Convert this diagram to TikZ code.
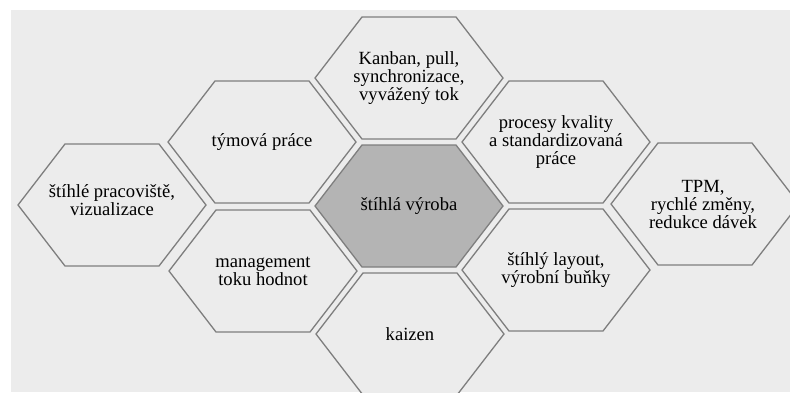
\documentclass[tikz,border=0pt]{standalone}
\usepackage{fontspec}
\setmainfont{Liberation Serif}
\definecolor{pagebg}{HTML}{ECECEC}
\definecolor{hexline}{HTML}{7E7E7E}
\definecolor{hexcore}{HTML}{B4B4B4}
\tikzset{
  hexlabel/.style={align=center, inner sep=0pt, text=black,
    font=\fontsize{18.6}{18}\selectfont},
  hexshape/.style={draw=hexline, line width=1.3pt, line join=miter, fill=pagebg},
}
\newcommand{\hexaround}[2][]{%
  \path[hexshape,#1] ([shift={(-94,0)}]#2.center) -- ([shift={(-47,-61)}]#2.center)
    -- ([shift={(47,-61)}]#2.center) -- ([shift={(94,0)}]#2.center)
    -- ([shift={(47,61)}]#2.center) -- ([shift={(-47,61)}]#2.center) -- cycle;}
\begin{document}
\begin{tikzpicture}[x=1pt,y=-1pt]
\useasboundingbox (0,0) rectangle (790,392);
\clip (0,0) rectangle (790,392);
\fill[white] (0,0) rectangle (790,392);
\fill[pagebg] (11,10) rectangle (790,392);
% label anchors (hex centres)
\coordinate (kanban) at (409,78);
\coordinate (tym) at (262,142);
\coordinate (proc) at (556,142);
\coordinate (prac) at (112,205);
\coordinate (core) at (409,206);
\coordinate (tpm) at (705,204);
\coordinate (mgmt) at (263,271);
\coordinate (layout) at (556,270);
\coordinate (kaizen) at (410,334);
% hexagons
\hexaround{kanban}
\hexaround{tym}
\hexaround{proc}
\hexaround{prac}
\hexaround[fill=hexcore]{core}
\hexaround{tpm}
\hexaround{mgmt}
\hexaround{layout}
\hexaround{kaizen}
% texts
\node[hexlabel] (tkanban) at (kanban) {Kanban, pull,\\synchronizace,\\vyvážený tok};
\node[hexlabel] (ttym) at (tym) {týmová práce};
\node[hexlabel] (tproc) at (proc) {procesy kvality\\a standardizovaná\\práce};
\node[hexlabel] (tprac) at ([yshift=5]prac) {štíhlé pracoviště,\\vizualizace};
\node[hexlabel] (tcore) at (core) {štíhlá výroba};
\node[hexlabel] (ttpm) at ([xshift=-2]tpm) {TPM,\\rychlé změny,\\redukce dávek};
\node[hexlabel] (tmgmt) at (mgmt) {management\\toku hodnot};
\node[hexlabel] (tlayout) at (layout) {štíhlý layout,\\výrobní buňky};
\node[hexlabel] (tkaizen) at (kaizen) {kaizen};
\end{tikzpicture}
\end{document}
